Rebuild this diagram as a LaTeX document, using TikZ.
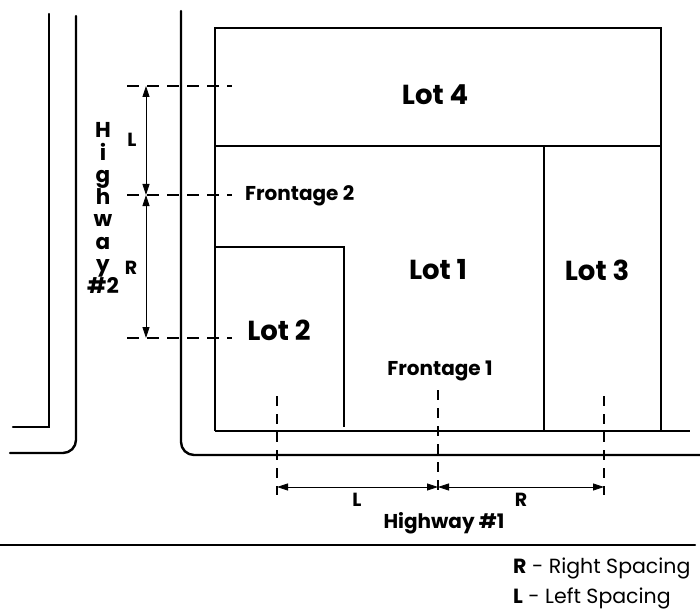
\documentclass[tikz,border=0pt]{standalone}
\usepackage{fontspec}
\setmainfont{Poppins}
\usetikzlibrary{arrows.meta}
\begin{document}
\begin{tikzpicture}[x=1pt,y=-1pt,
  road/.style={line width=2.4pt, line cap=round},
  lotline/.style={line width=2.4pt},
  dashline/.style={line width=2pt, dash pattern=on 12pt off 8pt},
  dimline/.style={line width=0.8pt, {Triangle[length=11pt,width=7pt]}-{Triangle[length=11pt,width=7pt]}},
  lotlabel/.style={font=\fontsize{27.5}{30}\selectfont\bfseries},
  smalllabel/.style={font=\fontsize{20}{22}\selectfont\bfseries},
  dimlabel/.style={font=\fontsize{19}{21}\selectfont\bfseries}]
\useasboundingbox (0,0) rectangle (700,612);
% roads
\draw[road] (49,14) -- (49,427) -- (13,427);
\draw[road] (76,16) -- (76,440) arc (0:90:13) -- (10,453);
\draw[road] (181,11) -- (181,442) arc (180:90:13) -- (700,455);
\draw[road] (0,545) -- (695,545);
% lots
\draw[lotline] (215,431) -- (215,28) -- (661,28) -- (661,431);
\draw[lotline] (215,431) -- (690,431);
\draw[lotline] (215,146) -- (661,146);
\draw[lotline] (544,146) -- (544,431);
\draw[lotline] (215,247) -- (344,247) -- (344,427);
% coordinates
\coordinate (a1) at (127,86); \coordinate (a2) at (232,86);
\coordinate (b1) at (127,195); \coordinate (b2) at (232,195);
\coordinate (c1) at (127,338); \coordinate (c2) at (232,338);
\draw[dashline] (a1) -- (a2);
\draw[dashline] (b1) -- (b2);
\draw[dashline] (c1) -- (c2);
\coordinate (da) at (146,86); \coordinate (db) at (146,195); \coordinate (dc) at (146,338);
\draw[dimline] (da) -- (db);
\draw[dimline] (db) -- (dc);
\node[dimlabel] (lL) at (132,140) {L};
\node[dimlabel] (lR) at (131,268) {R};
\foreach \t [count=\i] in {H,i,g,h,w,a,y,\#2}
  \node[font=\fontsize{21.5}{22}\selectfont\bfseries, anchor=base, inner sep=0pt] (hw\i) at (103,138+22.2*\i-22.2) {\t};
% vertical dashed
\coordinate (v1t) at (277,396); \coordinate (v1b) at (277,495);
\coordinate (v2t) at (438,390); \coordinate (v2b) at (438,495);
\coordinate (v3t) at (604,396); \coordinate (v3b) at (604,495);
\draw[dashline, dash pattern=on 10pt off 8pt] (v1t) -- (v1b);
\draw[dashline, dash pattern=on 10pt off 8pt] (v2t) -- (v2b);
\draw[dashline, dash pattern=on 10pt off 8pt] (v3t) -- (v3b);
\coordinate (e1) at (277,487); \coordinate (e2) at (438,487); \coordinate (e3) at (604,487);
\draw[dimline] (e1) -- (e2);
\draw[dimline] (e2) -- (e3);
\node[dimlabel] (bL) at (357,500) {L};
\node[dimlabel] (bR) at (521,500) {R};
% labels
\node[lotlabel] (lot4) at (435,95) {Lot 4};
\node[lotlabel] (lot1) at (438,270) {Lot 1};
\node[lotlabel] (lot3) at (597,270) {Lot 3};
\node[lotlabel] (lot2) at (279,330) {Lot 2};
\node[smalllabel, anchor=west, inner sep=0pt] (f2) at (245,196) {Frontage 2};
\node[smalllabel] (f1) at (440,371) {Frontage 1};
\node[smalllabel] (hw1) at (444,523) {Highway \#1};
\node[font=\fontsize{20.5}{22}\selectfont, anchor=west, inner sep=0pt] (leg1) at (513,568) {\textbf{R} - Right Spacing};
\node[font=\fontsize{20.5}{22}\selectfont, anchor=west, inner sep=0pt] (leg2) at (513,598) {\textbf{L} - Left Spacing};
\end{tikzpicture}
\end{document}
